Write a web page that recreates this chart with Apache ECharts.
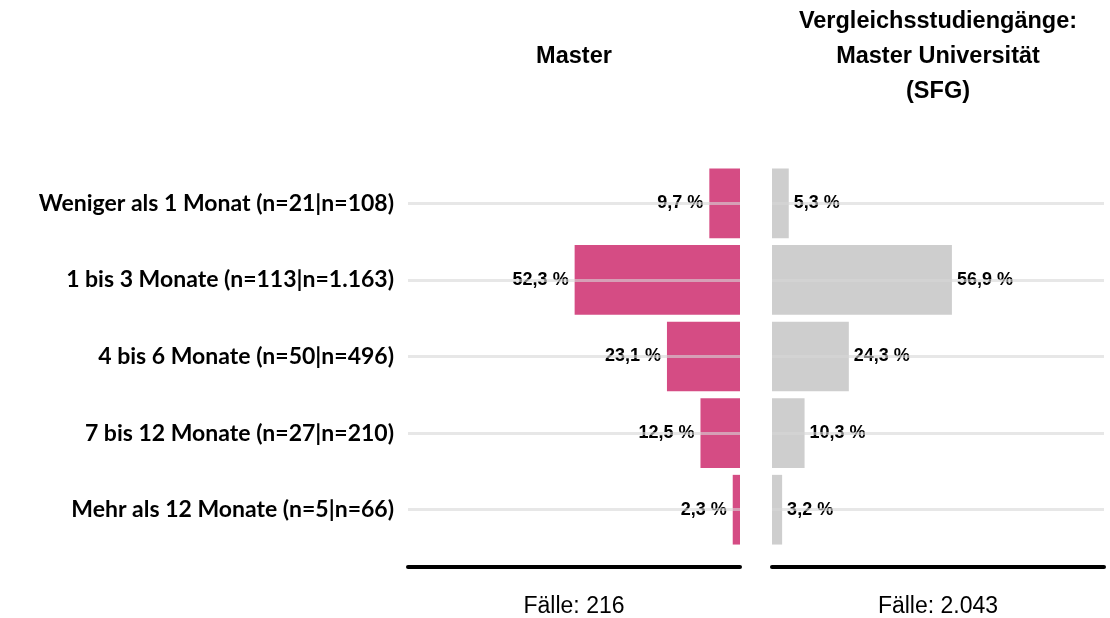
<!DOCTYPE html>
<html><head><meta charset="utf-8">
<script src="https://cdn.jsdelivr.net/npm/echarts@6/dist/echarts.min.js"></script>
<style>html,body{margin:0;padding:0;background:#fff}#c{width:1110px;height:618px}</style>
</head><body><div id="c"></div>
<script>
const categories = ["Weniger als 1 Monat (n=21|n=108)", "1 bis 3 Monate (n=113|n=1.163)", "4 bis 6 Monate (n=50|n=496)", "7 bis 12 Monate (n=27|n=210)", "Mehr als 12 Monate (n=5|n=66)"];
const masterValues = [9.7, 52.3, 23.1, 12.5, 2.3];
const compareValues = [5.3, 56.9, 24.3, 10.3, 3.2];
const titleLeft = "Master";
const titleRight = "Vergleichsstudiengänge:\nMaster Universität\n(SFG)";
const casesLeft = "Fälle: 216";
const casesRight = "Fälle: 2.043";

const fmt = v => v.toFixed(1).replace('.', ',') + ' %';
const chart = echarts.init(document.getElementById('c'), null, {renderer: 'canvas'});
const gridLineStyle = {color: 'rgba(215,215,215,0.6)', width: 3, type: 'solid'};
const markLines = categories.map(c => ({yAxis: c}));
const valueLabel = {fontFamily: 'Liberation Sans, Arial', fontWeight: 'bold', fontSize: 18, color: '#000', textBorderWidth: 0};
const axisNameStyle = {fontFamily: 'Liberation Sans, Arial', fontSize: 23, color: '#000'};
const titleStyle = {fontFamily: 'Liberation Sans, Arial', fontWeight: 'bold', fontSize: 23.5, color: '#000', lineHeight: 35};

chart.setOption({
  animation: false,
  title: [
    {text: titleLeft, left: 574, top: 39, padding: 0, textAlign: 'center', textStyle: titleStyle},
    {text: titleRight, left: 938, top: 4, padding: 0, textAlign: 'center', textStyle: titleStyle}
  ],
  grid: [
    {left: 408, width: 332, top: 165, height: 383, outerBoundsMode: 'none', containLabel: false},
    {left: 772, width: 332, top: 165, height: 383, outerBoundsMode: 'none', containLabel: false}
  ],
  xAxis: [
    {gridIndex: 0, type: 'value', min: 0, max: 105, inverse: true, position: 'bottom', offset: 19,
     axisLine: {show: true, lineStyle: {color: '#000', width: 4, cap: 'round'}},
     axisTick: {show: false}, axisLabel: {show: false}, splitLine: {show: false},
     name: casesLeft, nameLocation: 'middle', nameGap: 28, nameTextStyle: axisNameStyle},
    {gridIndex: 1, type: 'value', min: 0, max: 105, position: 'bottom', offset: 19,
     axisLine: {show: true, lineStyle: {color: '#000', width: 4, cap: 'round'}},
     axisTick: {show: false}, axisLabel: {show: false}, splitLine: {show: false},
     name: casesRight, nameLocation: 'middle', nameGap: 28, nameTextStyle: axisNameStyle}
  ],
  yAxis: [
    {gridIndex: 0, type: 'category', data: categories, inverse: true,
     axisLine: {show: false}, axisTick: {show: false},
     axisLabel: {margin: 14, fontFamily: 'Lato, Carlito, Calibri', fontWeight: 'bold', fontSize: 23, color: '#000'}},
    {gridIndex: 1, type: 'category', data: categories, inverse: true,
     axisLine: {show: false}, axisTick: {show: false}, axisLabel: {show: false}}
  ],
  series: [
    {type: 'bar', xAxisIndex: 0, yAxisIndex: 0, data: masterValues, barCategoryGap: '9%',
     itemStyle: {color: '#d54c84'},
     label: Object.assign({show: true, position: 'left', distance: 6, formatter: p => fmt(p.value)}, valueLabel),
     markLine: {silent: true, symbol: 'none', label: {show: false}, lineStyle: gridLineStyle, data: markLines}},
    {type: 'bar', xAxisIndex: 1, yAxisIndex: 1, data: compareValues, barCategoryGap: '9%',
     itemStyle: {color: '#cecece'},
     label: Object.assign({show: true, position: 'right', distance: 5, formatter: p => fmt(p.value)}, valueLabel),
     markLine: {silent: true, symbol: 'none', label: {show: false}, lineStyle: gridLineStyle, data: markLines}}
  ]
});
</script></body></html>
